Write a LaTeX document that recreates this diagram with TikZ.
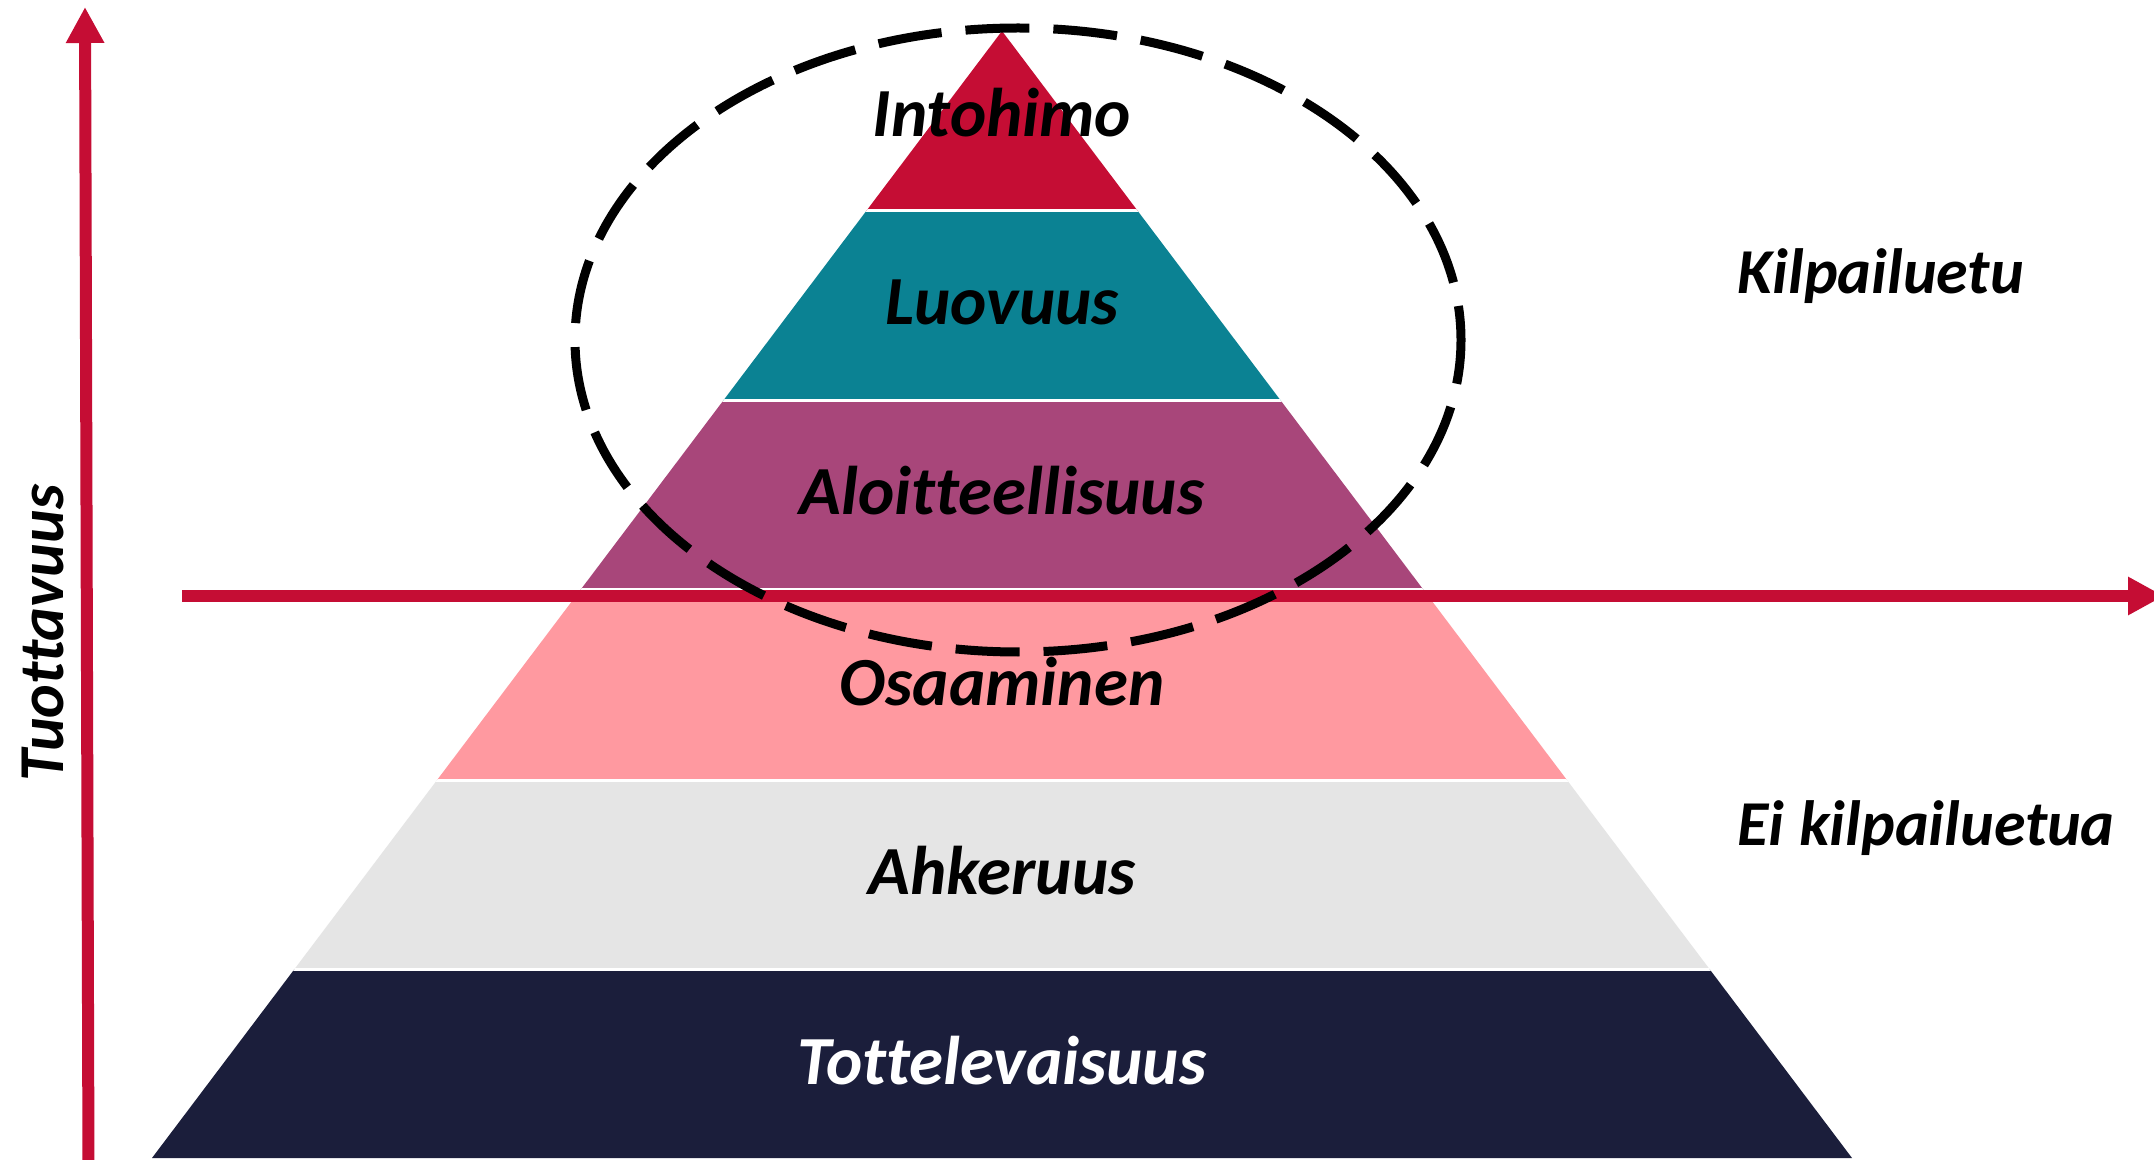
\documentclass[tikz,border=0pt]{standalone}
\usepackage{fontspec}
\setmainfont{Carlito}[Ligatures={NoCommon,NoRequired,NoContextual}]
\usetikzlibrary{arrows.meta}
\definecolor{cred}{RGB}{197,13,52}
\definecolor{cteal}{RGB}{11,130,147}
\definecolor{cmag}{RGB}{168,70,122}
\definecolor{cpink}{RGB}{255,153,160}
\definecolor{cgray}{RGB}{229,229,229}
\definecolor{cnavy}{RGB}{27,30,59}
\tikzset{
  lbl/.style={font=\fontsize{19.6}{24}\selectfont\bfseries\itshape, anchor=base, inner sep=0pt},
  sidelbl/.style={font=\fontsize{18.2}{22}\selectfont\bfseries\itshape, inner sep=0pt},
  axisarrow/.style={draw=cred, line width=1.2mm, -{Triangle[length=3.6mm,width=3.6mm]}},
  gapline/.style={draw=white, line width=0.3mm},
  ring/.style={draw=black, line width=0.9mm, dash pattern=on 6.4mm off 2.4mm, dash phase=2mm}
}
\begin{document}
\begin{tikzpicture}[x=0.1mm,y=-0.1mm]
\clip (0,0) rectangle (2154,1160);
\fill[white] (0,0) rectangle (2154,1160);
% pyramid
\coordinate (apex) at (1002,31);
\coordinate (bl) at (152,1158);
\coordinate (br) at (1852,1158);
\begin{scope}
  \clip (apex) -- (bl) -- (br) -- cycle;
  \fill[cred]  (0,0)   rectangle (2154,211);
  \fill[cteal] (0,211) rectangle (2154,401);
  \fill[cmag]  (0,401) rectangle (2154,590);
  \fill[cpink] (0,590) rectangle (2154,780);
  \fill[cgray] (0,780) rectangle (2154,969);
  \fill[cnavy] (0,969) rectangle (2154,1160);
  \foreach \yy in {211,401,590,780,969} \draw[gapline] (0,\yy) -- (2154,\yy);
\end{scope}
% axes
\coordinate (vstart) at (88.5,1170);
\coordinate (vend) at (85,7);
\draw[axisarrow] (vstart) -- (vend);
\coordinate (hstart) at (182,596);
\coordinate (hend) at (2164,596);
\draw[axisarrow] (hstart) -- (hend);
% dashed ellipse
\coordinate (ec) at (1018,340);
\draw[ring] (ec) ellipse [x radius=443, y radius=312];
% labels
\node[lbl] (l1) at (1002,137) {Intohimo};
\node[lbl] (l2) at (1002,325) {Luovuus};
\node[lbl] (l3) at (1002,515) {Aloitteellisuus};
\node[lbl] (l4) at (1002,705) {Osaaminen};
\node[lbl] (l5) at (1002,894) {Ahkeruus};
\node[lbl, text=white] (l6) at (1002,1084) {Tottelevaisuus};
\node[sidelbl, anchor=base west] (k1) at (1737,294) {Kilpailuetu};
\node[sidelbl, anchor=base west] (k2) at (1737,845) {Ei kilpailuetua};
\node[sidelbl, anchor=base, rotate=90] (ty) at (63,633) {Tuottavuus};
\end{tikzpicture}
\end{document}
